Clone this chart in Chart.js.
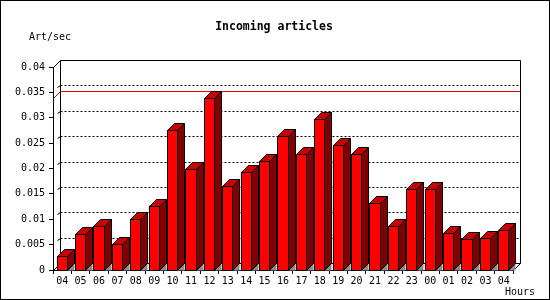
<!DOCTYPE html>
<html>
<head>
<meta charset="utf-8">
<script src="https://cdn.jsdelivr.net/npm/chart.js@4.4.1/dist/chart.umd.min.js"></script>
<style>
  html, body { margin: 0; padding: 0; background: #fff; }
  canvas { display: block; }
</style>
</head>
<body>
<canvas id="myChart-incoming" width="550" height="300"></canvas>
<script>
// hours of the day shown on the x axis
const hours = ['04', '05', '06', '07', '08', '09', '10', '11', '12', '13', '14', '15', '16',
               '17', '18', '19', '20', '21', '22', '23', '00', '01', '02', '03', '04'];
// articles per second
const artPerSec = [0.0027, 0.0070, 0.0086, 0.0051, 0.0100, 0.0127, 0.0275, 0.0200, 0.0339,
                   0.0165, 0.0194, 0.0214, 0.0264, 0.0228, 0.0298, 0.0246, 0.0228, 0.0133,
                   0.0086, 0.0159, 0.0159, 0.0072, 0.0062, 0.0064, 0.0078];
// y axis range
const yMin = 0;
const yMax = 0.04;
const yStep = 0.005;

const DEPTH = 7; // 3d offset in px
const monoFont = '"DejaVu Sans Mono", "Liberation Mono", monospace';

// edges of the plot taken from the scales
function plotEdges(chart) {
  const { x, y } = chart.scales;
  const n = chart.data.labels.length;
  const cat = x.getPixelForValue(1) - x.getPixelForValue(0);
  return {
    L: Math.round(x.getPixelForValue(0) - cat / 2),
    R: Math.round(x.getPixelForValue(n - 1) + cat / 2),
    T: Math.round(y.getPixelForValue(yMax)),
    B: Math.round(y.getPixelForValue(yMin))
  };
}

// draws back wall, dotted grid, max line and the 3d faces of the bars
const box3d = {
  id: 'box3d',
  beforeDraw(chart) {
    const ctx = chart.ctx;
    ctx.save();
    ctx.fillStyle = '#fff';
    ctx.fillRect(0, 0, chart.width, chart.height);
    ctx.restore();
  },
  beforeDatasetsDraw(chart) {
    const ctx = chart.ctx;
    const y = chart.scales.y;
    const { L, R, T, B } = plotEdges(chart);
    const D = DEPTH;
    ctx.save();
    ctx.lineWidth = 1;
    ctx.strokeStyle = '#000';

    // dotted grid on the back wall
    ctx.setLineDash([2, 2]);
    for (let v = yMin + yStep; v < yMax - yStep / 2; v += yStep) {
      const yy = Math.round(y.getPixelForValue(v)) - D + 0.5;
      ctx.beginPath();
      ctx.moveTo(L + D + 0.5, yy);
      ctx.lineTo(R + D + 0.5, yy);
      ctx.stroke();
    }
    ctx.setLineDash([]);
    // little marks on the side wall
    for (let v = yMin + yStep; v < yMax - yStep / 2; v += yStep) {
      const yy = Math.round(y.getPixelForValue(v));
      ctx.beginPath();
      ctx.moveTo(L + D - 2.5, yy - D + 2.5);
      ctx.lineTo(L + D + 0.5, yy - D + 0.5);
      ctx.stroke();
    }

    // back frame
    ctx.beginPath();
    ctx.moveTo(L + 0.5, T + 0.5);
    ctx.lineTo(L + D + 0.5, T - D + 0.5);
    ctx.lineTo(R + D + 0.5, T - D + 0.5);
    ctx.lineTo(R + D + 0.5, B - D + 0.5);
    ctx.lineTo(R + 0.5, B + 0.5);
    ctx.moveTo(L + D + 0.5, T - D + 0.5);
    ctx.lineTo(L + D + 0.5, B - D + 0.5);
    ctx.lineTo(R + D + 0.5, B - D + 0.5);
    ctx.moveTo(L + 0.5, B + 0.5);
    ctx.lineTo(L + D + 0.5, B - D + 0.5);
    ctx.stroke();

    // red line at the maximum value
    const maxY = Math.round(y.getPixelForValue(Math.max(...artPerSec)));
    ctx.strokeStyle = '#e00000';
    ctx.beginPath();
    ctx.moveTo(L + 0.5, maxY + 0.5);
    ctx.lineTo(L + D + 0.5, maxY - D + 0.5);
    ctx.lineTo(R + D + 0.5, maxY - D + 0.5);
    ctx.stroke();
    ctx.restore();
  },
  afterDatasetsDraw(chart) {
    const ctx = chart.ctx;
    const D = DEPTH;
    const meta = chart.getDatasetMeta(0);
    ctx.save();
    ctx.lineWidth = 1;
    ctx.strokeStyle = '#000';
    meta.data.forEach(bar => {
      const p = bar.getProps(['x', 'y', 'base', 'width'], true);
      const x0 = Math.round(p.x - p.width / 2);
      const x1 = Math.round(p.x + p.width / 2) - 1;
      const yT = Math.round(p.y);
      const yB = Math.round(p.base);

      // floor shadow
      ctx.fillStyle = '#8c8c8c';
      ctx.beginPath();
      ctx.moveTo(x1 + 0.5, yB + 0.5);
      ctx.lineTo(x1 + D + 0.5, yB - D + 0.5);
      ctx.lineTo(x1 + D + 0.5, yB + 0.5);
      ctx.closePath();
      ctx.fill();

      // front
      ctx.fillStyle = '#ff0000';
      ctx.fillRect(x0, yT, x1 - x0 + 1, yB - yT + 1);
      ctx.strokeRect(x0 + 0.5, yT + 0.5, x1 - x0, yB - yT);

      // side
      ctx.fillStyle = '#800000';
      ctx.beginPath();
      ctx.moveTo(x1 + 0.5, yT + 0.5);
      ctx.lineTo(x1 + D + 0.5, yT - D + 0.5);
      ctx.lineTo(x1 + D + 0.5, yB - D + 0.5);
      ctx.lineTo(x1 + 0.5, yB + 0.5);
      ctx.closePath();
      ctx.fill();
      ctx.stroke();

      // top
      ctx.fillStyle = '#c80000';
      ctx.beginPath();
      ctx.moveTo(x0 + 0.5, yT + 0.5);
      ctx.lineTo(x0 + D + 0.5, yT - D + 0.5);
      ctx.lineTo(x1 + D + 0.5, yT - D + 0.5);
      ctx.lineTo(x1 + 0.5, yT + 0.5);
      ctx.closePath();
      ctx.fill();
      ctx.stroke();
    });
    ctx.restore();
  },
  afterDraw(chart) {
    const ctx = chart.ctx;
    ctx.save();
    ctx.fillStyle = '#000';
    ctx.textBaseline = 'middle';
    // title
    ctx.font = 'bold 11.5px ' + monoFont;
    ctx.textAlign = 'center';
    ctx.fillText('Incoming articles', 274, 27);
    // axis titles
    ctx.font = '10px ' + monoFont;
    ctx.textAlign = 'left';
    ctx.fillText('Art/sec', 29, 37);
    ctx.fillText('Hours', 505, 292);
    // image border
    ctx.strokeStyle = '#000';
    ctx.lineWidth = 1;
    ctx.strokeRect(0.5, 0.5, chart.width - 1, chart.height - 1);
    ctx.restore();
  }
};

const ctx = document.getElementById('myChart-incoming');
new Chart(ctx, {
  type: 'bar',
  data: {
    labels: hours,
    datasets: [{
      data: artPerSec,
      backgroundColor: '#ff0000',
      borderColor: '#000',
      borderWidth: 1,
      borderSkipped: false,
      categoryPercentage: 1.0,
      barPercentage: 0.6
    }]
  },
  options: {
    responsive: false,
    devicePixelRatio: 1,
    animation: false,
    layout: { padding: { left: 0, top: 67, right: 37, bottom: 0 } },
    plugins: {
      legend: { display: false },
      title: { display: false },
      tooltip: { enabled: false }
    },
    scales: {
      x: {
        afterFit: s => { s.height = 30; },
        grid: { drawOnChartArea: false, tickLength: 4, color: '#000', offset: true },
        border: { color: '#000' },
        ticks: {
          color: '#000',
          font: { family: monoFont, size: 10 },
          padding: 1,
          maxRotation: 0,
          autoSkip: false
        }
      },
      y: {
        min: yMin,
        max: yMax,
        afterFit: s => { s.width = 53; },
        grid: { drawOnChartArea: false, tickLength: 4, color: '#000' },
        border: { color: '#000' },
        ticks: {
          stepSize: yStep,
          color: '#000',
          font: { family: monoFont, size: 10 },
          padding: 4,
          callback: v => String(+v.toFixed(3))
        }
      }
    }
  },
  plugins: [box3d]
});
</script>
</body>
</html>
